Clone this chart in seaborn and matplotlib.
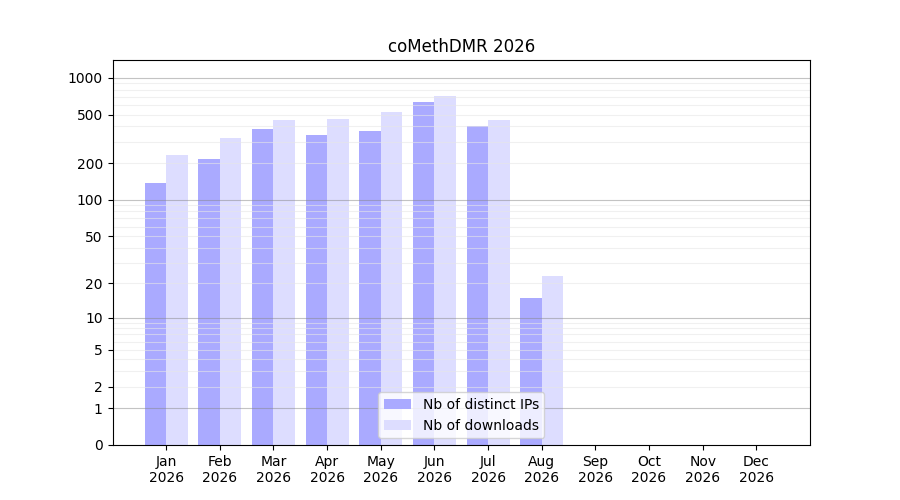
import numpy as np
import pandas as pd
import matplotlib
matplotlib.use("Agg")
import matplotlib.pyplot as plt
import seaborn as sns

months = ["Jan", "Feb", "Mar", "Apr", "May", "Jun", "Jul", "Aug", "Sep", "Oct", "Nov", "Dec"]
year = "2026"
distinct_ips = [138, 217, 383, 342, 368, 637, 405, 15, 0, 0, 0, 0]
downloads = [234, 323, 453, 462, 527, 713, 453, 23, 0, 0, 0, 0]
ytick_values = [0, 1, 2, 5, 10, 20, 50, 100, 200, 500, 1000]
major_grid = [1, 10, 100, 1000]
minor_grid = [m * d for d in (1, 10, 100) for m in range(2, 10)]

labels = [f"{m}\n{year}" for m in months]
df = pd.DataFrame({
    "month": labels * 2,
    "count": distinct_ips + downloads,
    "series": ["Nb of distinct IPs"] * 12 + ["Nb of downloads"] * 12,
})

fig, ax = plt.subplots(figsize=(9, 5), dpi=100)
ax.set_yscale("function", functions=(lambda x: np.log10(1 + np.clip(x, -0.999, None)),
                                     lambda y: 10 ** y - 1))
sns.barplot(data=df, x="month", y="count", hue="series",
            palette=["#aaaaff", "#ddddff"], width=0.8, linewidth=0,
            saturation=1, ax=ax)

# grid drawn over the bars but under the spines
for v in minor_grid:
    ax.axhline(v, color="#e6e6e6", linewidth=0.8, alpha=0.6, zorder=2)
for v in major_grid:
    ax.axhline(v, color="#888888", linewidth=0.8, alpha=0.5, zorder=2)

ax.set_ylim(0, 1400)
ax.set_xlim(-1, 12)
ax.set_yticks(ytick_values)
ax.set_yticklabels([str(v) for v in ytick_values])
ax.yaxis.set_minor_locator(matplotlib.ticker.NullLocator())
ax.tick_params(axis="y", which="minor", length=0)
ax.set_xlabel("")
ax.set_ylabel("")
ax.set_title("coMethDMR 2026")
ax.legend(loc="lower center")

plt.savefig("out.png", dpi=100)
